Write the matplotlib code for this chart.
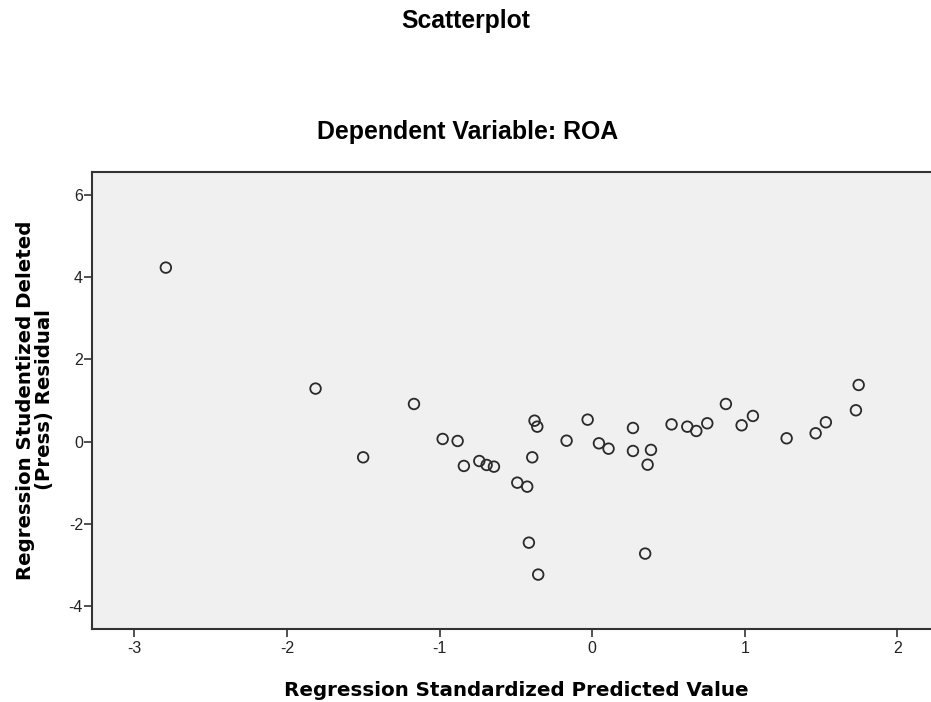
import matplotlib
matplotlib.use("Agg")
import matplotlib.pyplot as plt

# Data
pred = [-2.794, -1.813, -1.168, -0.980, -0.882, -1.501, -0.841, -0.740, -0.692, -0.644,
        -0.491, -0.426, -0.378, -0.360, -0.393, -0.415, -0.354, -0.168, -0.030, 0.044,
        0.107, 0.267, 0.267, 0.385, 0.363, 0.347, 0.520, 0.623, 0.682, 0.754,
        0.876, 0.979, 1.053, 1.274, 1.464, 1.531, 1.728, 1.746]
resid = [4.23, 1.29, 0.916, 0.066, 0.017, -0.38, -0.59, -0.47, -0.566, -0.607,
         -0.996, -1.093, 0.51, 0.365, -0.38, -2.454, -3.23, 0.024, 0.535, -0.04,
         -0.17, 0.333, -0.226, -0.20, -0.559, -2.72, 0.42, 0.365, 0.26, 0.447,
         0.916, 0.398, 0.625, 0.082, 0.204, 0.471, 0.763, 1.378]
xticks = [-3, -2, -1, 0, 1, 2]
yticks = [-4, -2, 0, 2, 4, 6]

plt.rcParams['font.family'] = ['Liberation Sans', 'DejaVu Sans']

W, H = 931, 702
fig = plt.figure(figsize=(W / 100, H / 100), dpi=100)
ax = fig.add_axes([0.0988, 0.1036, 0.9012, 0.651])
ax.set_facecolor('#f0f0f0')

ax.scatter(pred, resid, s=58, facecolors='none', edgecolors='#2a2a2a', linewidths=1.3, zorder=3)

ax.set_xlim(-3.278, 2.22)
ax.set_ylim(-4.559, 6.547)
ax.set_xticks(xticks)
ax.set_yticks(yticks)
ax.set_xticklabels([str(t) for t in xticks])
ax.set_yticklabels([str(t) for t in yticks])
ax.tick_params(direction='out', length=5.5, width=1.2, colors='#333333', labelcolor='#222222', labelsize=11.5)
ax.tick_params(axis='x', pad=3)
ax.tick_params(axis='y', pad=1)

for s in ['left', 'bottom', 'top']:
    ax.spines[s].set_color('#333333')
    ax.spines[s].set_linewidth(1.5)
ax.spines['right'].set_visible(False)

fig.text(466 / W, 1 - 21 / H, 'Scatterplot', ha='center', va='center', fontsize=17.8, fontweight='bold')
fig.text(467.5 / W, 1 - 132.5 / H, 'Dependent Variable: ROA', ha='center', va='center',
         fontsize=17.9, fontweight='bold')

fig.text(516 / W, 1 - 690 / H, 'Regression Standardized Predicted Value', ha='center', va='center',
         fontsize=14.3, fontweight='bold', family='DejaVu Sans')
fig.text(35 / W, 1 - 400 / H, 'Regression Studentized Deleted\n(Press) Residual', ha='center', va='center',
         rotation=90, fontsize=14.2, fontweight='bold', family='DejaVu Sans', linespacing=1.0,
         multialignment='center')

fig.savefig('out.png', dpi=100)
